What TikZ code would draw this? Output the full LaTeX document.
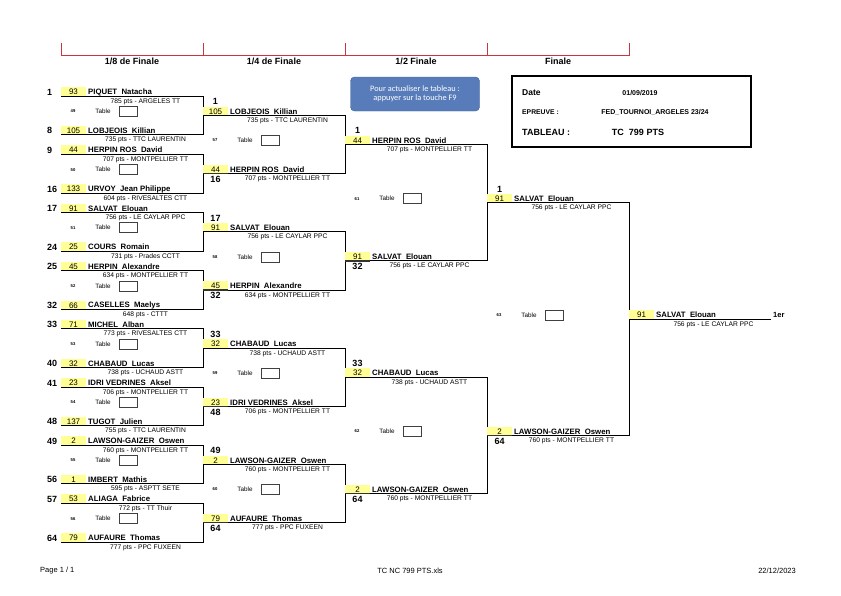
\documentclass[tikz,border=0pt]{standalone}
\usepackage{fontspec}
\setmainfont{Liberation Sans}
\newfontfamily\btnfont{Carlito}

\definecolor{rankfill}{RGB}{255,255,150}
\definecolor{hdrred}{RGB}{200,55,65}
\definecolor{btnblue}{RGB}{88,124,186}
\definecolor{btnedge}{RGB}{62,96,152}

\tikzset{
  rank/.style={inner sep=0, font=\fontsize{8}{8}\selectfont},
  pname/.style={anchor=west, inner sep=0, font=\bfseries\fontsize{7.8}{8}\selectfont},
  pts/.style={inner sep=0, font=\fontsize{6.7}{6.7}\selectfont},
  seed/.style={inner sep=0, font=\bfseries\fontsize{9}{9}\selectfont},
  mnum/.style={inner sep=0, font=\bfseries\fontsize{4.2}{4.2}\selectfont},
  tab/.style={inner sep=0, font=\fontsize{6.3}{6.3}\selectfont},
  tabbox/.style={draw=black!75, line width=0.6pt, minimum width=18pt, minimum height=10pt, inner sep=0},
  bracket/.style={line width=0.8pt},
  boxline/.style={line width=1.4pt, black!80},
  hdr/.style={color=hdrred, line width=1pt},
  hdrtxt/.style={inner sep=0, font=\bfseries\fontsize{9}{9}\selectfont},
  foot/.style={inner sep=0, font=\fontsize{7.5}{7.5}\selectfont}
}

% player entry: id, left x, row y, rank, name, points
\newcommand{\plentry}[6]{%
  \fill[rankfill] (#2,#3-4.8) rectangle (#2+25,#3+4);
  \node[rank] (#1-rk) at (#2+12.5,#3) {#4};
  \node[pname] (#1-nm) at (#2+27,#3) {#5};
  \node[pts] (#1-pt) at (#2+84.5,#3+9.5) {#6};
  \coordinate (#1-l) at (#2,#3+4);
  \coordinate (#1-r) at (#2+142,#3+4);}

% table slot: left x, row y, match number
\newcommand{\tableslot}[3]{%
  \node[mnum] (m#3) at (#1+12,#2) {#3};
  \node[tab] (t#3) at (#1+42,#2) {Table};
  \node[tabbox] (k#3) at (#1+67,#2) {};}

\begin{document}
\begin{tikzpicture}[x=1pt,y=1pt,yscale=-1,xscale=1]
\useasboundingbox (0,0) rectangle (841,595);

% Header
\draw[hdr] (61,43) -- (61,55) -- (629,55) -- (629,43);
\draw[hdr] (203,43) -- (203,55);
\draw[hdr] (345,43) -- (345,55);
\draw[hdr] (487,43) -- (487,55);
\node[hdrtxt] (h8) at (132,61) {1/8 de Finale};
\node[hdrtxt] (h4) at (274,61) {1/4 de Finale};
\node[hdrtxt] (h2) at (416,61) {1/2 Finale};
\node[hdrtxt] (h1) at (558,61) {Finale};

% Button
\node[draw=btnedge, fill=btnblue, rounded corners=4pt, minimum width=129pt, minimum height=34pt,
  text=white, align=center, font=\btnfont\fontsize{8.3}{8.6}\selectfont] (btn) at (415,94)
  {Pour actualiser le tableau :\\appuyer sur la touche F9};

% Info box
\draw[line width=1.1pt] (512,76) rectangle (751,147);
\node[anchor=west, inner sep=0, font=\bfseries\fontsize{8.5}{8.5}\selectfont] (date) at (522,93) {Date};
\node[inner sep=0, font=\bfseries\fontsize{7}{7}\selectfont] (dateval) at (640,93) {01/09/2019};
\node[anchor=west, inner sep=0, font=\bfseries\fontsize{6.8}{6.8}\selectfont] (epr) at (522,112.5) {EPREUVE :};
\node[inner sep=0, font=\bfseries\fontsize{7}{7}\selectfont] (eprval) at (655,112.5) {FED\_TOURNOI\_ARGELES 23/24};
\node[anchor=west, inner sep=0, font=\bfseries\fontsize{9}{9}\selectfont] (tabl) at (522,132) {TABLEAU :};
\node[inner sep=0, font=\bfseries\fontsize{9}{9}\selectfont] (tablval) at (638,132) {TC~ 799 PTS};

% 1/8 de Finale
\plentry{a1}{61}{92.0}{93}{PIQUET~ Natacha}{785 pts - ARGELES TT}
\plentry{a8}{61}{130.8}{105}{LOBJEOIS~ Killian}{735 pts - TTC LAURENTIN}
\plentry{a9}{61}{150.2}{44}{HERPIN ROS~ David}{707 pts - MONTPELLIER TT}
\plentry{a16}{61}{189.0}{133}{URVOY~ Jean Philippe}{604 pts - RIVESALTES CTT}
\plentry{a17}{61}{208.4}{91}{SALVAT~ Elouan}{756 pts - LE CAYLAR PPC}
\plentry{a24}{61}{247.1}{25}{COURS~ Romain}{731 pts - Prades CCTT}
\plentry{a25}{61}{266.5}{45}{HERPIN~ Alexandre}{634 pts - MONTPELLIER TT}
\plentry{a32}{61}{305.3}{66}{CASELLES~ Maelys}{648 pts - CTTT}
\plentry{a33}{61}{324.7}{71}{MICHEL~ Alban}{773 pts - RIVESALTES CTT}
\plentry{a40}{61}{363.5}{32}{CHABAUD~ Lucas}{738 pts - UCHAUD ASTT}
\plentry{a41}{61}{382.9}{23}{IDRI VEDRINES~ Aksel}{706 pts - MONTPELLIER TT}
\plentry{a48}{61}{421.7}{137}{TUGOT~ Julien}{755 pts - TTC LAURENTIN}
\plentry{a49}{61}{441.1}{2}{LAWSON-GAIZER~ Oswen}{760 pts - MONTPELLIER TT}
\plentry{a56}{61}{479.8}{1}{IMBERT~ Mathis}{595 pts - ASPTT SETE}
\plentry{a57}{61}{499.2}{53}{ALIAGA~ Fabrice}{772 pts - TT Thuir}
\plentry{a64}{61}{538.0}{79}{AUFAURE~ Thomas}{777 pts - PPC FUXEEN}

\node[seed, anchor=west] (s1) at (47,92.0) {1};
\node[seed, anchor=west] (s8) at (47,130.8) {8};
\node[seed, anchor=west] (s9) at (47,150.2) {9};
\node[seed, anchor=west] (s16) at (47,189.0) {16};
\node[seed, anchor=west] (s17) at (47,208.4) {17};
\node[seed, anchor=west] (s24) at (47,247.1) {24};
\node[seed, anchor=west] (s25) at (47,266.5) {25};
\node[seed, anchor=west] (s32) at (47,305.3) {32};
\node[seed, anchor=west] (s33) at (47,324.7) {33};
\node[seed, anchor=west] (s40) at (47,363.5) {40};
\node[seed, anchor=west] (s41) at (47,382.9) {41};
\node[seed, anchor=west] (s48) at (47,421.7) {48};
\node[seed, anchor=west] (s49) at (47,441.1) {49};
\node[seed, anchor=west] (s56) at (47,479.8) {56};
\node[seed, anchor=west] (s57) at (47,499.2) {57};
\node[seed, anchor=west] (s64) at (47,538.0) {64};

\tableslot{61}{111.4}{49}
\tableslot{61}{169.6}{50}
\tableslot{61}{227.7}{51}
\tableslot{61}{285.9}{52}
\tableslot{61}{344.1}{53}
\tableslot{61}{402.3}{54}
\tableslot{61}{460.4}{55}
\tableslot{61}{518.6}{56}

\draw[bracket] (a1-l) -- (a1-r) -- (a8-r) -- (a8-l);
\draw[bracket] (a9-l) -- (a9-r) -- (a16-r) -- (a16-l);
\draw[bracket] (a17-l) -- (a17-r) -- (a24-r) -- (a24-l);
\draw[bracket] (a25-l) -- (a25-r) -- (a32-r) -- (a32-l);
\draw[bracket] (a33-l) -- (a33-r) -- (a40-r) -- (a40-l);
\draw[bracket] (a41-l) -- (a41-r) -- (a48-r) -- (a48-l);
\draw[bracket] (a49-l) -- (a49-r) -- (a56-r) -- (a56-l);
\draw[bracket] (a57-l) -- (a57-r) -- (a64-r) -- (a64-l);

% 1/4 de Finale
\plentry{b1}{203}{111.4}{105}{LOBJEOIS~ Killian}{735 pts - TTC LAURENTIN}
\plentry{b16}{203}{169.6}{44}{HERPIN ROS~ David}{707 pts - MONTPELLIER TT}
\plentry{b17}{203}{227.7}{91}{SALVAT~ Elouan}{756 pts - LE CAYLAR PPC}
\plentry{b32}{203}{285.9}{45}{HERPIN~ Alexandre}{634 pts - MONTPELLIER TT}
\plentry{b33}{203}{344.1}{32}{CHABAUD~ Lucas}{738 pts - UCHAUD ASTT}
\plentry{b48}{203}{402.3}{23}{IDRI VEDRINES~ Aksel}{706 pts - MONTPELLIER TT}
\plentry{b49}{203}{460.4}{2}{LAWSON-GAIZER~ Oswen}{760 pts - MONTPELLIER TT}
\plentry{b64}{203}{518.6}{79}{AUFAURE~ Thomas}{777 pts - PPC FUXEEN}

\node[seed] (u1) at (215.5,101.7) {1};
\node[seed] (u16) at (215.5,179.3) {16};
\node[seed] (u17) at (215.5,218.0) {17};
\node[seed] (u32) at (215.5,295.6) {32};
\node[seed] (u33) at (215.5,334.4) {33};
\node[seed] (u48) at (215.5,412.0) {48};
\node[seed] (u49) at (215.5,450.7) {49};
\node[seed] (u64) at (215.5,528.3) {64};

\tableslot{203}{140.5}{57}
\tableslot{203}{256.8}{58}
\tableslot{203}{373.2}{59}
\tableslot{203}{489.5}{60}

\draw[bracket] (b1-l) -- (b1-r) -- (b16-r) -- (b16-l);
\draw[bracket] (b17-l) -- (b17-r) -- (b32-r) -- (b32-l);
\draw[bracket] (b33-l) -- (b33-r) -- (b48-r) -- (b48-l);
\draw[bracket] (b49-l) -- (b49-r) -- (b64-r) -- (b64-l);
\draw[boxline] (b16-l) -- ++(25,0);
\draw[boxline] (b32-l) -- ++(25,0);
\draw[boxline] (b48-l) -- ++(25,0);
\draw[boxline] (b64-l) -- ++(25,0);

% 1/2 Finale
\plentry{c1}{345}{140.5}{44}{HERPIN ROS~ David}{707 pts - MONTPELLIER TT}
\plentry{c32}{345}{256.8}{91}{SALVAT~ Elouan}{756 pts - LE CAYLAR PPC}
\plentry{c33}{345}{373.2}{32}{CHABAUD~ Lucas}{738 pts - UCHAUD ASTT}
\plentry{c64}{345}{489.5}{2}{LAWSON-GAIZER~ Oswen}{760 pts - MONTPELLIER TT}

\node[seed] (v1) at (357.5,130.8) {1};
\node[seed] (v32) at (357.5,266.5) {32};
\node[seed] (v33) at (357.5,363.5) {33};
\node[seed] (v64) at (357.5,499.2) {64};

\tableslot{345}{198.7}{61}
\tableslot{345}{431.4}{62}

\draw[bracket] (c1-l) -- (c1-r) -- (c32-r) -- (c32-l);
\draw[bracket] (c33-l) -- (c33-r) -- (c64-r) -- (c64-l);
\draw[boxline] (c32-l) -- ++(25,0);
\draw[boxline] (c64-l) -- ++(25,0);

% Finale
\plentry{d1}{487}{198.7}{91}{SALVAT~ Elouan}{756 pts - LE CAYLAR PPC}
\plentry{d64}{487}{431.4}{2}{LAWSON-GAIZER~ Oswen}{760 pts - MONTPELLIER TT}

\node[seed] (w1) at (499.5,189.0) {1};
\node[seed] (w64) at (499.5,441.1) {64};

\tableslot{487}{315.0}{63}

\draw[bracket] (d1-l) -- (d1-r) -- (d64-r) -- (d64-l);
\draw[boxline] (d64-l) -- ++(25,0);

% Winner
\plentry{win}{629}{315.0}{91}{SALVAT~ Elouan}{756 pts - LE CAYLAR PPC}
\draw[bracket] (win-l) -- (win-r);
\node[anchor=west, inner sep=0, font=\bfseries\fontsize{7.5}{7.5}\selectfont] (first) at (773,315.0) {1er};

% Footer
\node[foot, anchor=west] (page) at (40,571) {Page 1 / 1};
\node[foot] (file) at (410,571) {TC NC 799 PTS.xls};
\node[foot, anchor=east] (printed) at (796,571) {22/12/2023};

\end{tikzpicture}
\end{document}
